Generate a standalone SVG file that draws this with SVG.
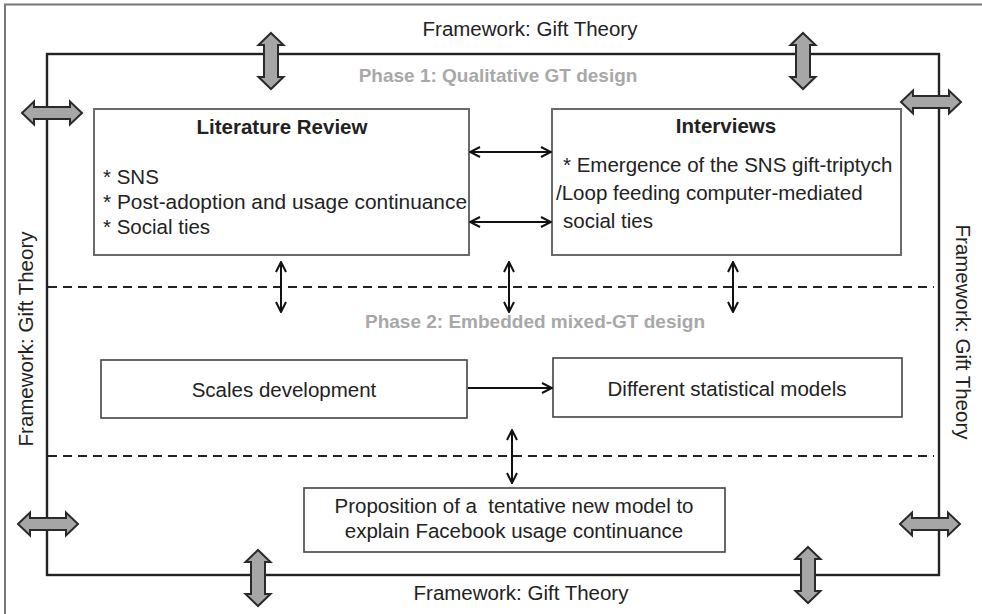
<svg xmlns="http://www.w3.org/2000/svg" width="982" height="614" viewBox="0 0 982 614">
<style>
text{font-family:"Liberation Sans",Arial,sans-serif;fill:#222;font-size:20.5px}
.b{font-weight:bold}
.ph{font-weight:bold;fill:#a8a8a8;font-size:19px}
.box{fill:#fff;stroke:#6a6a6a;stroke-width:2}
.box2{fill:#fff;stroke:#444;stroke-width:1.6}
.frame{fill:none;stroke:#222;stroke-width:2.4}
.dash{fill:none;stroke:#222;stroke-width:2;stroke-dasharray:9 6}
.conn{fill:none;stroke:#111;stroke-width:2}
.blk{fill:#a6a6a6;stroke:#2a2a2a;stroke-width:2;stroke-linejoin:miter}
</style>
<defs>
<marker id="ah" viewBox="0 0 12 12" refX="11" refY="6" markerWidth="12" markerHeight="12" markerUnits="userSpaceOnUse" orient="auto-start-reverse">
<path d="M1,1 L11,6 L1,11" fill="none" stroke="#111" stroke-width="2"/>
</marker>
<path id="bv" d="M0,-28 L12.5,-16 L7,-16 L7,16 L12.5,16 L0,28 L-12.5,16 L-7,16 L-7,-16 L-12.5,-16 Z"/>
<path id="bh" d="M-30,0 L-18,-11.5 L-18,-6 L18,-6 L18,-11.5 L30,0 L18,11.5 L18,6 L-18,6 L-18,11.5 Z"/>
</defs>
<rect width="982" height="614" fill="#fff"/>
<g id="border">
<path d="M5,614 L5,4.5 L982,4.5" fill="none" stroke="#777" stroke-width="2"/>
</g>
<g id="frame">
<rect class="frame" x="47" y="54" width="892" height="521"/>
<line class="dash" x1="48" y1="287" x2="934" y2="287"/>
<line class="dash" x1="48" y1="456" x2="934" y2="456"/>
</g>
<g id="framework-labels">
<text x="530" y="36" text-anchor="middle">Framework: Gift Theory</text>
<text x="521" y="600" text-anchor="middle">Framework: Gift Theory</text>
<text transform="translate(33,339) rotate(-90)" text-anchor="middle">Framework: Gift Theory</text>
<text transform="translate(956,332) rotate(90)" text-anchor="middle">Framework: Gift Theory</text>
</g>
<g id="framework-arrows">
<use href="#bv" class="blk" x="271" y="61"/>
<use href="#bv" class="blk" x="803" y="61"/>
<use href="#bv" class="blk" x="258" y="578"/>
<use href="#bv" class="blk" x="808" y="575"/>
<use href="#bh" class="blk" x="52" y="113"/>
<use href="#bh" class="blk" x="931" y="102"/>
<use href="#bh" class="blk" x="48" y="524"/>
<use href="#bh" class="blk" x="930" y="524"/>
</g>
<g id="phase-labels">
<text class="ph" x="498" y="82" text-anchor="middle">Phase 1: Qualitative GT design</text>
<text class="ph" x="535" y="328" text-anchor="middle">Phase 2: Embedded mixed-GT design</text>
</g>
<g id="literature-review">
<rect class="box" x="94" y="109" width="375" height="146"/>
<text class="b" x="282" y="134" text-anchor="middle">Literature Review</text>
<text x="103" y="184">* SNS</text>
<text x="103" y="209" textLength="364" lengthAdjust="spacingAndGlyphs">* Post-adoption and usage continuance</text>
<text x="103" y="234">* Social ties</text>
</g>
<g id="interviews">
<rect class="box" x="552" y="109" width="349" height="146"/>
<text class="b" x="726" y="133" text-anchor="middle">Interviews</text>
<text x="563" y="172">* Emergence of the SNS gift-triptych</text>
<text x="556" y="200">/Loop feeding computer-mediated</text>
<text x="563" y="228">social ties</text>
</g>
<g id="scales-development">
<rect class="box2" x="101" y="360" width="366" height="58"/>
<text x="284" y="397" text-anchor="middle">Scales development</text>
</g>
<g id="statistical-models">
<rect class="box2" x="553" y="358" width="349" height="59"/>
<text x="727" y="396" text-anchor="middle">Different statistical models</text>
</g>
<g id="proposition">
<rect class="box2" x="304" y="488" width="421" height="64"/>
<text x="514" y="513" text-anchor="middle">Proposition of a&#160; tentative new model to</text>
<text x="514" y="538" text-anchor="middle">explain Facebook usage continuance</text>
</g>
<g id="connectors">
<line class="conn" x1="470" y1="152" x2="551" y2="152" marker-start="url(#ah)" marker-end="url(#ah)"/>
<line class="conn" x1="470" y1="222" x2="551" y2="222" marker-start="url(#ah)" marker-end="url(#ah)"/>
<line class="conn" x1="468" y1="388" x2="552" y2="388" marker-end="url(#ah)"/>
<line class="conn" x1="281" y1="262" x2="281" y2="312" marker-start="url(#ah)" marker-end="url(#ah)"/>
<line class="conn" x1="509" y1="262" x2="509" y2="312" marker-start="url(#ah)" marker-end="url(#ah)"/>
<line class="conn" x1="733" y1="262" x2="733" y2="312" marker-start="url(#ah)" marker-end="url(#ah)"/>
<line class="conn" x1="512" y1="430" x2="512" y2="483" marker-start="url(#ah)" marker-end="url(#ah)"/>
</g>
</svg>
